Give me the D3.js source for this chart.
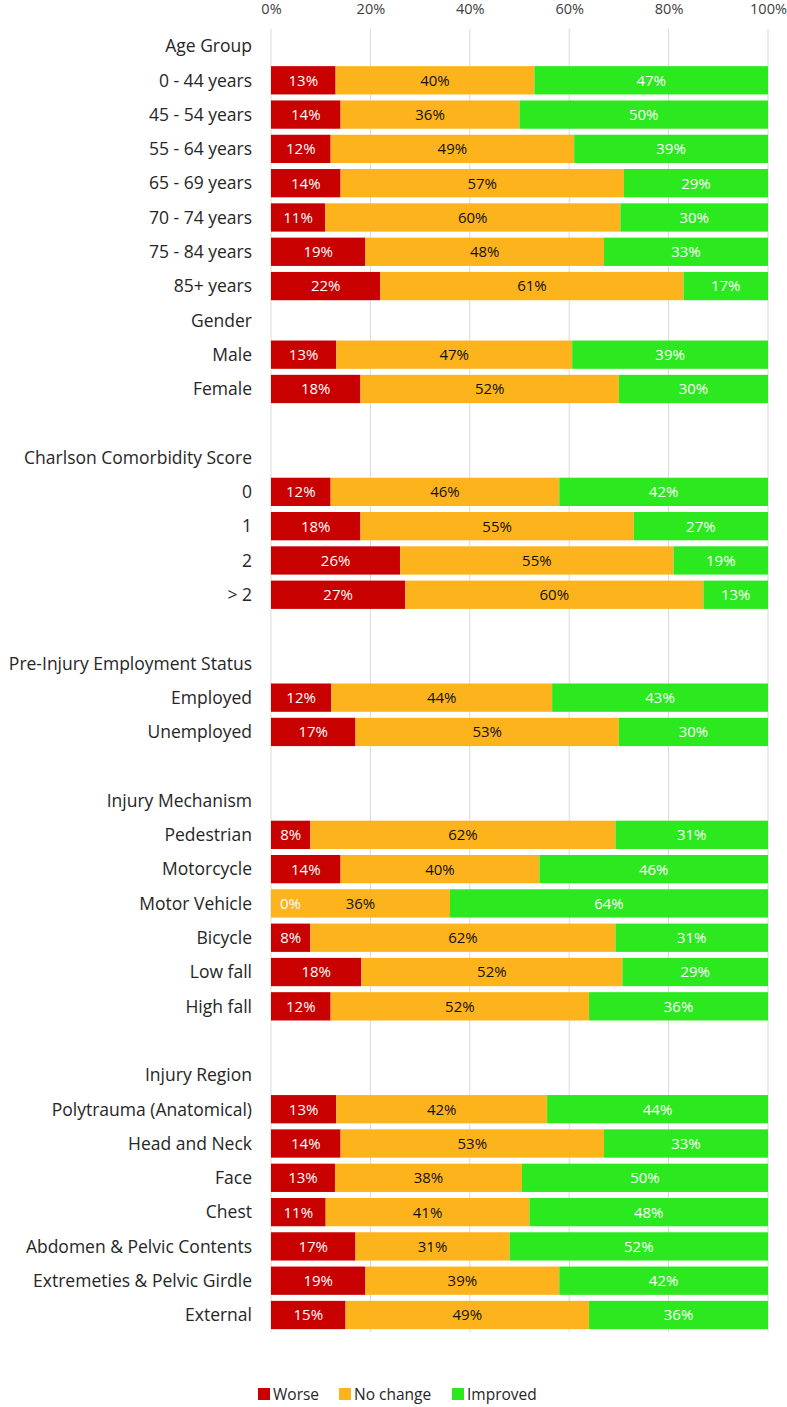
<!DOCTYPE html>
<html><head><meta charset="utf-8">
<script src="https://cdn.jsdelivr.net/npm/d3@7"></script>
<style>body{margin:0;background:#fff}svg{display:block}</style>
</head><body>
<script>
const rows = ["Age Group","0 - 44 years","45 - 54 years","55 - 64 years","65 - 69 years","70 - 74 years","75 - 84 years","85+ years",
 "Gender","Male","Female","_b1",
 "Charlson Comorbidity Score","0","1","2","> 2","_b2",
 "Pre-Injury Employment Status","Employed","Unemployed","_b3",
 "Injury Mechanism","Pedestrian","Motorcycle","Motor Vehicle","Bicycle","Low fall","High fall","_b4",
 "Injury Region","Polytrauma (Anatomical)","Head and Neck","Face","Chest","Abdomen & Pelvic Contents","Extremeties & Pelvic Girdle","External"];
const categories = ["0 - 44 years","45 - 54 years","55 - 64 years","65 - 69 years","70 - 74 years","75 - 84 years","85+ years",
 "Male","Female","0","1","2","> 2","Employed","Unemployed",
 "Pedestrian","Motorcycle","Motor Vehicle","Bicycle","Low fall","High fall",
 "Polytrauma (Anatomical)","Head and Neck","Face","Chest","Abdomen & Pelvic Contents","Extremeties & Pelvic Girdle","External"];
const worse    = [13,14,12,14,11,19,22, 13,18, 12,18,26,27, 12,17, 8,14,0,8,18,12, 13,14,13,11,17,19,15];
const noChange = [40,36,49,57,60,48,61, 47,52, 46,55,55,60, 44,53, 62,40,36,62,52,52, 42,53,38,41,31,39,49];
const improved = [47,50,39,29,30,33,17, 39,30, 42,27,19,13, 43,30, 31,46,64,31,29,36, 44,33,50,48,52,42,36];
const seriesNames = ["Worse","No change","Improved"];
const tickValues = [0,0.2,0.4,0.6,0.8,1];

const W=787,H=1407;
const svg=d3.select("body").append("svg").attr("width",W).attr("height",H);
const font="'Open Sans', Lato, sans-serif";
const x=d3.scaleLinear().domain([0,1]).range([271,768]);
const y=d3.scaleBand().domain(rows).range([28.85,1332.15]).paddingInner(0.175).paddingOuter(0.0875);
const color=d3.scaleOrdinal().domain(seriesNames).range(["#C80000","#FDB31C","#2BE81F"]);
const labelColor=d3.scaleOrdinal().domain(seriesNames).range(["#fff","#111","#fff"]);
const labelColorZero=d3.scaleOrdinal().domain(seriesNames).range(["#fff","#fff","#fff"]);

// gridlines
svg.append("g").selectAll("line").data(tickValues).join("line")
 .attr("x1",d=>x(d)).attr("x2",d=>x(d)).attr("y1",y.range()[0]).attr("y2",y.range()[1])
 .attr("stroke","#d9d9d9").attr("stroke-width",1);
// tick labels
const ax=svg.append("g").attr("transform","translate(0,14)")
 .call(d3.axisTop(x).tickValues(tickValues).tickFormat(d3.format(".0%")).tickSize(0).tickPadding(0));
ax.select(".domain").remove();
ax.selectAll("text").attr("font-family",font).attr("font-size",14.5).attr("fill","#404040").attr("dy","0");

const data=categories.map((c,i)=>({cat:c,"Worse":worse[i],"No change":noChange[i],"Improved":improved[i]}));
const stack=d3.stack().keys(seriesNames).offset(d3.stackOffsetExpand)(data);

const gb=svg.append("g"), gt=svg.append("g");
stack.forEach(s=>{
  gb.append("g").selectAll("rect").data(s).join("rect")
   .attr("x",d=>x(d[0])).attr("width",d=>x(d[1])-x(d[0]))
   .attr("y",d=>y(d.data.cat)).attr("height",y.bandwidth())
   .attr("fill",color(s.key));
  gt.append("g").selectAll("text").data(s).join("text")
   .attr("x",d=>{const w=x(d[1])-x(d[0]);return w<20? x(d[0])+9 : (x(d[0])+x(d[1]))/2;})
   .attr("text-anchor",d=>(x(d[1])-x(d[0]))<20?"start":"middle")
   .attr("y",d=>y(d.data.cat)+y.bandwidth()/2).attr("dy","0.36em")
   .attr("font-family",font).attr("font-size",15)
   .attr("fill",d=>d.data[s.key]===0?labelColorZero(s.key):labelColor(s.key))
   .text(d=>d.data[s.key]+"%");
});

// row labels
svg.append("g").selectAll("text").data(rows.filter(r=>!r.startsWith("_b"))).join("text")
 .attr("x",252).attr("y",d=>y(d)+y.bandwidth()/2).attr("dy","0.36em")
 .attr("text-anchor","end").attr("font-family",font).attr("font-size",17.5).attr("fill","#262626")
 .text(d=>d);

// legend
const lx=[258,339,452];
const lg=svg.append("g").selectAll("g").data(seriesNames).join("g")
 .attr("transform",(d,i)=>`translate(${lx[i]},1394)`);
lg.append("rect").attr("x",0).attr("y",-6).attr("width",12).attr("height",12).attr("fill",d=>color(d));
lg.append("text").attr("x",15).attr("dy","0.36em").attr("font-family",font).attr("font-size",15.5).attr("fill","#262626").text(d=>d);
</script>
</body></html>
